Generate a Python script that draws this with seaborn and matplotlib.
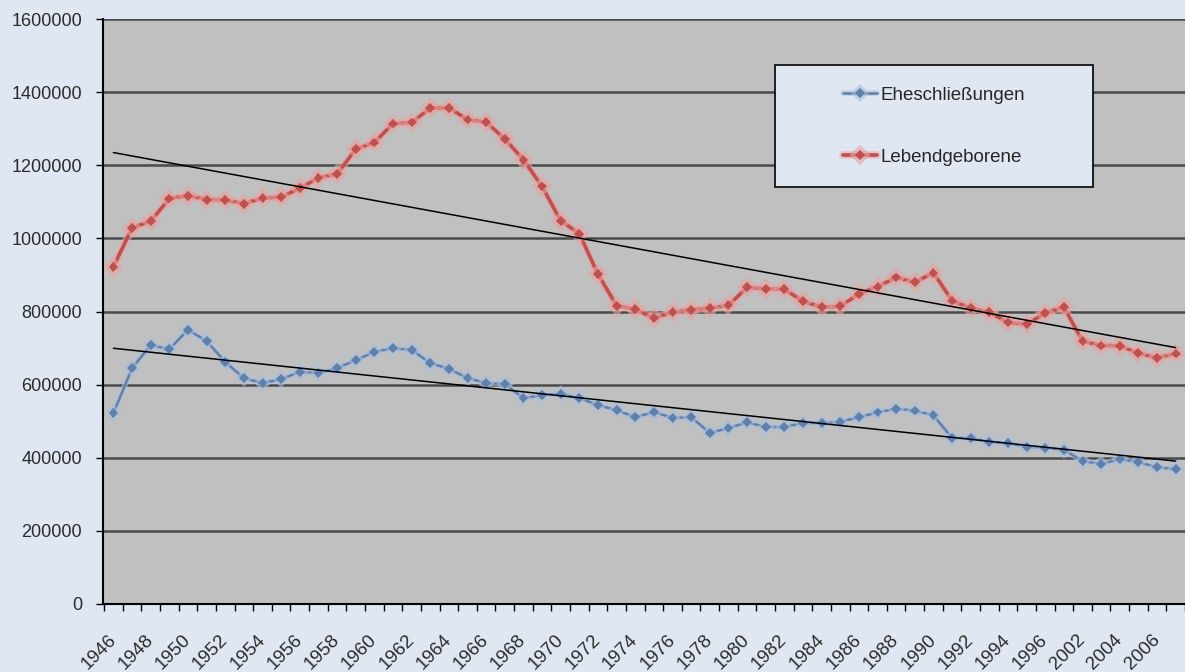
import matplotlib.pyplot as plt
import matplotlib.patheffects as pe
from matplotlib.patches import Rectangle
import seaborn as sns
import numpy as np
import pandas as pd

# Jahre (1998-2001 fehlen in der Vorlage)
years = list(range(1946, 1998)) + list(range(2002, 2008))

eheschliessungen = [
    522000, 645000, 708000, 697000, 750000, 719000, 662000, 618000, 604000, 615000,
    635000, 632000, 645000, 667000, 689000, 700000, 695000, 659000, 643000, 618000,
    604000, 602000, 563000, 571000, 575000, 563000, 544000, 530000, 511000, 525000,
    509000, 511000, 468000, 481000, 497000, 484000, 484000, 495000, 495000, 498000,
    511000, 524000, 534000, 529000, 516000, 454000, 454000, 443000, 440000, 430000,
    427000, 422000, 391000, 383000, 396000, 388000, 374000, 369000,
]

lebendgeborene = [
    922000, 1029000, 1047000, 1109000, 1117000, 1106000, 1105000, 1095000, 1110000, 1113000,
    1137000, 1166000, 1176000, 1244000, 1262000, 1314000, 1317000, 1356000, 1357000, 1325000,
    1318000, 1272000, 1215000, 1142000, 1048000, 1013000, 902000, 816000, 806000, 782000,
    798000, 805000, 809000, 817000, 866000, 862000, 861000, 828000, 812000, 814000,
    848000, 868000, 893000, 880000, 906000, 830000, 809000, 798000, 770000, 765000,
    796000, 812000, 719000, 707000, 706000, 686000, 673000, 685000,
]

pos = np.arange(len(years))
df = pd.DataFrame({'pos': pos, 'Eheschließungen': eheschliessungen,
                   'Lebendgeborene': lebendgeborene})

bg = '#dfe7f2'
sns.set_style('ticks', rc={'axes.facecolor': '#c0c0c0', 'figure.facecolor': bg})
plt.rcParams['font.family'] = ['Liberation Sans', 'DejaVu Sans']

fig = plt.figure(figsize=(11.85, 6.72), dpi=100)
ax = fig.add_axes([103 / 1185, 68 / 672, 1082 / 1185, 585 / 672])

ax.set_yticks(range(0, 1600001, 200000))
ax.grid(axis='y', color='#4a4a4a', lw=1.8)
ax.set_axisbelow(True)

blue = '#5f80ad'
red = '#c0504d'

sns.lineplot(data=df, x='pos', y='Eheschließungen', ax=ax, color=blue, lw=1.8,
             marker='D', markersize=5, markeredgewidth=0, label='Eheschließungen',
             path_effects=[pe.Stroke(linewidth=4, foreground='#a9bfdc', alpha=0.6), pe.Normal()])
sns.lineplot(data=df, x='pos', y='Lebendgeborene', ax=ax, color=red, lw=2.6,
             marker='D', markersize=5, markeredgewidth=0, label='Lebendgeborene',
             path_effects=[pe.Stroke(linewidth=5.5, foreground='#e9a3a1', alpha=0.6), pe.Normal()])

# lineare Trendlinien
sns.regplot(data=df, x='pos', y='Eheschließungen', ax=ax, scatter=False, ci=None,
            truncate=True, line_kws={'color': 'black', 'lw': 1.1})
sns.regplot(data=df, x='pos', y='Lebendgeborene', ax=ax, scatter=False, ci=None,
            truncate=True, line_kws={'color': 'black', 'lw': 1.1})

ax.set_xlim(-0.56, 57.15)
ax.set_ylim(0, 1600000)
ax.set_xlabel('')
ax.set_ylabel('')

ax.set_xticks(pos[::2])
ax.set_xticklabels([str(y) for y in years[::2]], rotation=45, ha='right',
                   va='center', rotation_mode='anchor')
ax.set_xticks(np.arange(-0.5, len(years), 1), minor=True)
ax.tick_params(axis='x', which='major', length=0, pad=24, labelsize=13.5, labelcolor='#2b2b2b')
ax.tick_params(axis='x', which='minor', length=5, width=1, color='black')
ax.tick_params(axis='y', length=5, width=1, color='black', pad=10, labelsize=13,
               labelcolor='#2b2b2b')
ax.yaxis.set_major_formatter(lambda v, p: f'{int(v)}')

sns.despine(ax=ax, top=True, right=True)
ax.spines['left'].set_linewidth(1.5)
ax.spines['bottom'].set_linewidth(1.5)
ax.spines['left'].set_color('black')
ax.spines['bottom'].set_color('black')

# Legendenkasten
x0, y0, w, h = 0.621, 0.713, 0.294, 0.208
ax.add_patch(Rectangle((x0, y0), w, h, transform=ax.transAxes, facecolor=bg,
                       edgecolor='black', lw=1.2, zorder=5))
handles, labels = ax.get_legend_handles_labels()
leg = ax.legend(handles, labels, loc='center', bbox_to_anchor=(x0, y0, w, h),
                bbox_transform=ax.transAxes, frameon=False, labelspacing=2.4,
                handlelength=1.8, handletextpad=0.2, fontsize=13.5)
leg.set_zorder(6)

fig.savefig('out.png', dpi=100, facecolor=bg)
